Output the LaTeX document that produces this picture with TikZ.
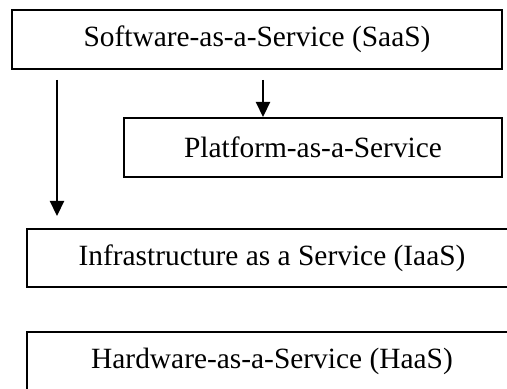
\documentclass[tikz,border=0pt]{standalone}
\usepackage{fontspec}
\setmainfont{Liberation Serif}
\usetikzlibrary{arrows.meta}

\tikzset{
    layerbox/.style={draw, line width=1pt, minimum width=245pt, minimum height=29.5pt,
        inner sep=0pt, font=\fontsize{14.7}{17}\selectfont},
    layerarrow/.style={line width=1.1pt, -{Triangle[length=7.5pt,width=7pt]}}
}

\begin{document}
\begin{tikzpicture}[x=0.5pt, y=-0.5pt]
        \useasboundingbox (0,0) rectangle (507,389);
        \node[layerbox] (saas) at (257,39.5) {Software-as-a-Service (SaaS)};
        \node[layerbox, minimum width=189pt] (paas) at (313,147.5) {Platform-as-a-Service};
        \node[layerbox, minimum height=29pt] (iaas) at (272,258) {Infrastructure as a Service (IaaS)};
        \node[layerbox, minimum height=29pt] (haas) at (272,361) {Hardware-as-a-Service (HaaS)};
        \draw[layerarrow] ([xshift=23pt, yshift=-5pt]saas.south west) -- ([xshift=15.5pt, yshift=6pt]iaas.north west);
        \draw[layerarrow] ([xshift=126pt, yshift=-5pt]saas.south west) -- ([xshift=70pt]paas.north west);
\end{tikzpicture}
\end{document}
